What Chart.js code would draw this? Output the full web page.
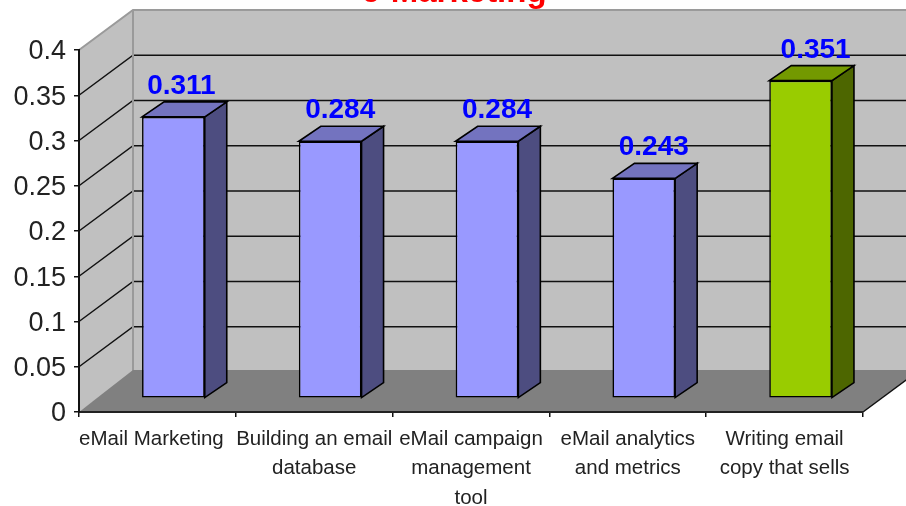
<!DOCTYPE html>
<html><head><meta charset="utf-8">
<style>html,body{margin:0;padding:0;background:#fff}canvas{display:block}</style>
<script src="https://cdn.jsdelivr.net/npm/chart.js@4/dist/chart.umd.min.js"></script>
</head><body><canvas id="c" width="906" height="506"></canvas>
<script>
const titleText = 'e-Marketing';
const categories = [
  'eMail Marketing',
  ['Building an email', 'database'],
  ['eMail campaign', 'management', 'tool'],
  ['eMail analytics', 'and metrics'],
  ['Writing email', 'copy that sells']
];
const values = [0.311, 0.284, 0.284, 0.243, 0.351];
const frontColors = ['#9999FF', '#9999FF', '#9999FF', '#9999FF', '#99CC00'];
const sideColors  = ['#4D4D80', '#4D4D80', '#4D4D80', '#4D4D80', '#4D6600'];
const topColors   = ['#7373BF', '#7373BF', '#7373BF', '#7373BF', '#739900'];
const labelNudge  = [-1, 1, 1, 1, 6];

const FONT = '"Liberation Sans", Arial, sans-serif';
const WALL = {dx: 54, dy: -40};
const BAR_SHIFT = {dx: 16, dy: -13.7};
const BAR_DEPTH = {dx: 22, dy: -15};

function poly(ctx, pts, fill, stroke, lw) {
  ctx.beginPath();
  pts.forEach((p, i) => i ? ctx.lineTo(p[0], p[1]) : ctx.moveTo(p[0], p[1]));
  ctx.closePath();
  if (fill) { ctx.fillStyle = fill; ctx.fill(); }
  if (stroke) { ctx.strokeStyle = stroke; ctx.lineWidth = lw || 1; ctx.stroke(); }
}

const box3d = {
  id: 'box3d',
  beforeDraw(chart) {
    const {ctx, scales: {x, y}} = chart;
    const L = x.left, R = x.right, B = y.getPixelForValue(0), T = y.getPixelForValue(0.4);
    const d = WALL;
    ctx.save();
    poly(ctx, [[L+d.dx, T+d.dy], [R+d.dx, T+d.dy], [R+d.dx, B+d.dy], [L+d.dx, B+d.dy]], '#C0C0C0');
    poly(ctx, [[L, T], [L+d.dx, T+d.dy], [L+d.dx, B+d.dy], [L, B]], '#C0C0C0');
    ctx.strokeStyle = '#111'; ctx.lineWidth = 1.5;
    y.ticks.forEach(t => {
      if (t.value <= 0 || t.value >= 0.4) return;
      const py = y.getPixelForValue(t.value);
      ctx.beginPath();
      ctx.moveTo(L, py); ctx.lineTo(L+d.dx, py+d.dy); ctx.lineTo(R+d.dx, py+d.dy);
      ctx.stroke();
    });
    ctx.strokeStyle = '#9A9A9A'; ctx.lineWidth = 2;
    ctx.beginPath();
    ctx.moveTo(L, T); ctx.lineTo(L+d.dx, T+d.dy); ctx.lineTo(R+d.dx, T+d.dy);
    ctx.moveTo(L+d.dx, T+d.dy); ctx.lineTo(L+d.dx, B+d.dy);
    ctx.stroke();
    poly(ctx, [[L, B], [R, B], [R+d.dx, B+d.dy], [R+d.dx, B+d.dy-2], [L+d.dx, B+d.dy-2]], '#808080');
    ctx.strokeStyle = '#111'; ctx.lineWidth = 1.5;
    ctx.beginPath(); ctx.moveTo(R, B); ctx.lineTo(R+d.dx, B+d.dy); ctx.stroke();
    ctx.fillStyle = '#FF0000';
    ctx.font = 'bold 33px ' + FONT;
    ctx.textAlign = 'center';
    ctx.textBaseline = 'alphabetic';
    ctx.fillText(titleText, 454, 2);
    ctx.restore();
    const xItems = x.getLabelItems();
    if (xItems[0] && !xItems[0]._moved) { xItems[0].options.translation[0] -= 6; xItems[0]._moved = true; }
    y.getLabelItems().forEach(it => {
      if (!it._moved) { it.options.translation[1] += 2; it._moved = true; }
    });
  },
  beforeDatasetsDraw(chart) {
    const ctx = chart.ctx;
    ctx.save();
    ctx.translate(BAR_SHIFT.dx, BAR_SHIFT.dy);
    chart.getDatasetMeta(0).data.forEach((b, i) => {
      const l = b.x - b.width/2, r = b.x + b.width/2, t = b.y, bt = b.base;
      const D = BAR_DEPTH;
      poly(ctx, [[r, t], [r+D.dx, t+D.dy], [r+D.dx, bt+D.dy], [r, bt]], sideColors[i], '#000', 1.6);
      poly(ctx, [[l, t], [l+D.dx, t+D.dy], [r+D.dx, t+D.dy], [r, t]], topColors[i], '#000', 1.6);
    });
  },
  afterDatasetsDraw(chart) {
    const ctx = chart.ctx;
    ctx.restore();
    ctx.save();
    ctx.fillStyle = '#0000FF';
    ctx.font = 'bold 28px ' + FONT;
    ctx.textAlign = 'center';
    ctx.textBaseline = 'alphabetic';
    chart.getDatasetMeta(0).data.forEach((b, i) => {
      ctx.fillText(String(values[i]), b.x + BAR_SHIFT.dx + 9 + labelNudge[i], b.y + BAR_SHIFT.dy - 23);
    });
    ctx.restore();
  }
};

new Chart(document.getElementById('c'), {
  type: 'bar',
  data: {
    labels: categories,
    datasets: [{
      data: values,
      backgroundColor: frontColors,
      borderColor: '#000',
      borderWidth: 1.6,
      borderSkipped: false,
      barPercentage: 0.4,
      categoryPercentage: 1
    }]
  },
  plugins: [box3d],
  options: {
    responsive: false,
    animation: false,
    layout: {padding: {top: 50, right: 43, left: 0, bottom: 0}},
    plugins: {legend: {display: false}, title: {display: false}, tooltip: {enabled: false}},
    scales: {
      x: {
        afterFit(s) { s.height = 94; },
        grid: {drawOnChartArea: false, color: '#111', tickLength: 5, lineWidth: 1.5},
        border: {color: '#222', width: 2},
        ticks: {maxRotation: 0, minRotation: 0, autoSkip: false, color: '#222', padding: 7,
                font: {family: FONT, size: 20.5, lineHeight: 1.45}}
      },
      y: {
        min: 0, max: 0.4,
        afterFit(s) { s.width = 79; },
        grid: {drawOnChartArea: false, color: '#111', tickLength: 5, lineWidth: 1.5},
        border: {color: '#111', width: 2},
        ticks: {stepSize: 0.05, color: '#222', padding: 8,
                font: {family: FONT, size: 27},
                callback: v => String(+v.toFixed(2))}
      }
    }
  }
});
</script></body></html>
